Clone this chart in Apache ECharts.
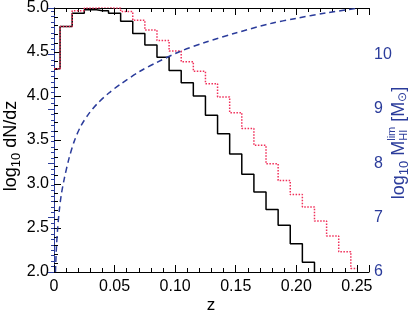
<!DOCTYPE html>
<html>
<head>
<meta charset="utf-8">
<script src="https://cdn.jsdelivr.net/npm/echarts@6/dist/echarts.min.js"></script>
<style>
  html, body { margin: 0; padding: 0; background: #fff; }
  #chart { width: 410px; height: 312px; }
</style>
</head>
<body>
<div id="chart"></div>
<script>
// histogram bins (centres), log10 dN/dz
const zBins = [0.00, 0.01, 0.02, 0.03, 0.04, 0.05, 0.06, 0.07, 0.08, 0.09, 0.10, 0.11, 0.12,
  0.13, 0.14, 0.15, 0.16, 0.17, 0.18, 0.19, 0.20, 0.21, 0.22, 0.23, 0.24, 0.25];
const nBlack = [4.31, 4.79, 4.94, 4.98, 4.97, 4.94, 4.85, 4.71, 4.58, 4.44, 4.29, 4.15, 4.00,
  3.78, 3.57, 3.34, 3.11, 2.91, 2.71, 2.53, 2.32, 2.11, 1.90];
const nRed = [4.31, 4.79, 4.97, 5.00, 5.01, 5.00, 4.96, 4.86, 4.75, 4.63, 4.51, 4.39, 4.28,
  4.14, 3.99, 3.81, 3.63, 3.44, 3.23, 3.04, 2.88, 2.74, 2.58, 2.41, 2.23, 2.04];

// limiting HI mass curve
const zLim = [0.0012, 0.002, 0.003, 0.0043, 0.006, 0.0085, 0.0125, 0.0166, 0.022, 0.0289, 0.0358,
  0.045, 0.055, 0.0713, 0.085, 0.104, 0.125, 0.15, 0.178, 0.20, 0.225, 0.249];
const mLim = [6.00, 6.45, 6.80, 7.12, 7.42, 7.72, 8.10, 8.40, 8.68, 8.92, 9.10,
  9.29, 9.46, 9.70, 9.86, 10.06, 10.23, 10.40, 10.57, 10.67, 10.77, 10.85];

const FONT = '"Liberation Sans", Arial, sans-serif';
const BLUE = '#2b3c9b';
const RED = '#f0305a';

const chart = echarts.init(document.getElementById('chart'), null, { renderer: 'canvas' });

// measure text to lay out sub/superscripts
const ctx = document.createElement('canvas').getContext('2d');
function tw(s, size) {
  ctx.font = size + 'px ' + FONT;
  return ctx.measureText(s).width;
}

// build a rotated label out of pieces: [text, size, dy] or [[t1,s1,dy1],[t2,s2,dy2]] for stacked
function rotLabel(cx, cy, pieces, color) {
  const kids = [];
  const widths = pieces.map(p => Array.isArray(p[0]) ? Math.max(...p.map(q => tw(q[0], q[1]))) : tw(p[0], p[1]));
  const total = widths.reduce((a, b) => a + b, 0);
  let x = -total / 2;
  pieces.forEach((p, i) => {
    const parts = Array.isArray(p[0]) ? p : [p];
    parts.forEach(q => {
      kids.push({
        type: 'text', x: x, y: q[2],
        style: { text: q[0], fontSize: q[1], fontFamily: FONT, fill: color, align: 'left', verticalAlign: 'middle' }
      });
    });
    x += widths[i];
  });
  return { type: 'group', x: cx, y: cy, rotation: Math.PI / 2, children: kids };
}

const pair = (xs, ys) => ys.map((v, i) => [xs[i], v]);

const xCommon = {
  type: 'value', min: 0, max: 0.26, interval: 0.05,
  axisLine: { show: true, lineStyle: { color: '#000', width: 1 } },
  axisTick: { show: true, inside: true, length: 7, lineStyle: { color: '#000' } },
  minorTick: { show: true, splitNumber: 5, length: 4, lineStyle: { color: '#000' } },
  splitLine: { show: false }
};

chart.setOption({
  animation: false,
  backgroundColor: '#fff',
  grid: { left: 54, right: 41, top: 2, bottom: 40 },
  xAxis: [
    Object.assign({}, xCommon, {
      position: 'bottom',
      axisLabel: {
        fontSize: 16, fontFamily: FONT, color: '#000', margin: 7, showMaxLabel: false,
        formatter: v => v === 0 ? '0' : v.toFixed(2)
      }
    }),
    Object.assign({}, xCommon, { position: 'top', axisLabel: { show: false } })
  ],
  yAxis: [
    {
      type: 'value', min: 2, max: 5, interval: 0.5, position: 'left',
      axisLine: { show: true, lineStyle: { color: '#000', width: 1 } },
      axisTick: { show: true, inside: true, length: 7, lineStyle: { color: '#000' } },
      minorTick: { show: true, splitNumber: 5, length: 4, lineStyle: { color: '#000' } },
      splitLine: { show: false },
      axisLabel: { fontSize: 16, fontFamily: FONT, color: '#000', margin: 5, formatter: v => v.toFixed(1) }
    },
    {
      type: 'value', min: 6, max: 10.86, interval: 1, position: 'right',
      axisLine: { show: true, lineStyle: { color: BLUE, width: 1 } },
      axisTick: { show: true, inside: true, length: 6, lineStyle: { color: BLUE } },
      minorTick: { show: true, splitNumber: 10, length: 3, lineStyle: { color: BLUE } },
      splitLine: { show: false },
      axisLabel: { fontSize: 16, fontFamily: FONT, color: BLUE, margin: 5, showMaxLabel: false }
    }
  ],
  graphic: [
    rotLabel(11, 146, [['log', 18, 0], ['10', 13, 5], [' dN/dz', 18, 0]], '#000'),
    {
      type: 'text', x: 211, y: 305,
      style: { text: 'z', fontSize: 17, fontFamily: FONT, fill: '#000', align: 'center', verticalAlign: 'middle' }
    },
    rotLabel(399, 143, [['log', 18, 0], ['10', 13, 5], [' M', 18, 0],
      [['lim', 11, -7], ['HI', 11, 5]], [' [M', 18, 0], ['\u2299', 12, 4], [']', 18, 0]], BLUE)
  ],
  series: [
    {
      name: 'black', type: 'line', step: 'middle', showSymbol: false,
      data: pair(zBins, nBlack),
      lineStyle: { color: '#000', width: 1.5 }, z: 2
    },
    {
      name: 'red', type: 'line', step: 'middle', showSymbol: false,
      data: pair(zBins, nRed),
      lineStyle: { color: RED, width: 1.5, type: [1.5, 1.5] }, z: 3
    },
    {
      name: 'mlim', type: 'line', yAxisIndex: 1, smooth: 0.3, showSymbol: false,
      data: pair(zLim, mLim),
      lineStyle: { color: BLUE, width: 1.5, type: [6, 4] }, z: 4
    }
  ]
});
</script>
</body>
</html>
